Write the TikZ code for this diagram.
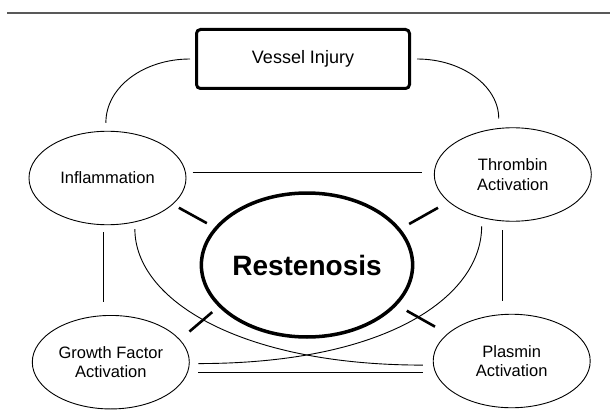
\documentclass[tikz,border=0pt]{standalone}
\usepackage{fontspec}
\setmainfont{Liberation Sans}
\usetikzlibrary{shapes.geometric}

\begin{document}
\begin{tikzpicture}[x=1pt, y=-1pt, outer sep=0pt,
        factor/.style={draw, ellipse, line width=0.9pt, minimum width=157pt, minimum height=93.5pt, inner sep=0pt, align=center, font=\fontsize{16.5}{19.5}\selectfont},
        link/.style={line width=0.9pt},
        hit/.style={line width=2.6pt}]
    \useasboundingbox (0,0) rectangle (610,417);
    \draw[line width=1.2pt, black!65] (7,13) -- (610,13);

    \node (vessel) [draw, rectangle, line width=3pt, rounded corners=4pt, minimum width=213pt, minimum height=59pt, font=\fontsize{18}{21}\selectfont] at (303,59) {Vessel Injury};
    \node (infl) [factor] at (107.5,178) {Inflammation};
    \node (thrombin) [factor] at (512.8,174.5) {Thrombin\\Activation};
    \node (growth) [factor] at (110.8,362.2) {Growth Factor\\Activation};
    \node (plasmin) [factor] at (511.7,361) {Plasmin\\Activation};
    \node (rest) [draw, ellipse, line width=3.5pt, minimum width=196pt, minimum height=144pt, inner sep=0pt, font=\fontsize{28}{32}\selectfont\bfseries] at (307,265) {Restenosis};

    \draw[link, shorten <=6.5pt, shorten >=8.5pt] (vessel.west) .. controls +(-52.5,0) and +(0,-44.5) .. (infl.92);
    \draw[link, shorten <=7.5pt, shorten >=10pt] (vessel.east) .. controls +(52.5,0) and +(0,-42.5) .. (thrombin.107);

    \draw[link, shorten <=7.2pt, shorten >=12.3pt] (infl.4.4) -- (infl.4.4 -| thrombin.west);
    \draw[link, shorten <=10.8pt, shorten >=10.2pt] (growth.-8) -- (growth.-8 -| plasmin.west);
    \draw[link, shorten <=7.4pt, shorten >=13.4pt] (infl.-95) -- (infl.-95 |- growth.north);
    \draw[link, shorten <=9.2pt, shorten >=13.2pt] (thrombin.-103.5) -- (thrombin.-103.5 |- plasmin.north);

    \draw[link, shorten <=7.2pt, shorten >=10.6pt] (infl.-58.8) .. controls +(0,78) and +(-193.6,0) .. (plasmin.183.7);
    \draw[link, shorten <=9pt, shorten >=9.2pt] (thrombin.-126.1) .. controls +(0,78) and +(200,0) .. (growth.-1.3);

    \draw[hit, shorten <=7.3pt, shorten >=10.6pt] (infl.-22) -- (rest.158);
    \draw[hit, shorten <=12.5pt, shorten >=11.6pt] (thrombin.-157) -- (rest.21);
    \draw[hit, shorten <=12.8pt, shorten >=10pt] (growth.18) -- (rest.205);
    \draw[hit, shorten <=13pt, shorten >=14.7pt] (rest.-24) -- (plasmin.157);
\end{tikzpicture}
\end{document}
